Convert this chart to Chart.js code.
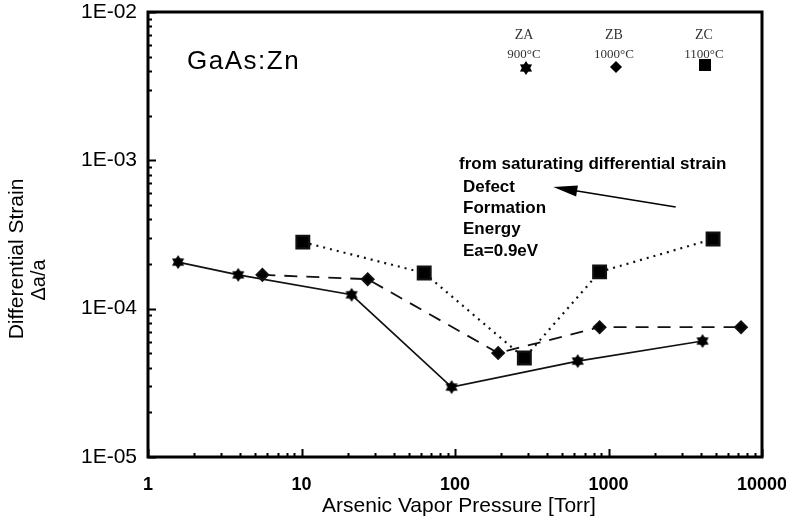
<!DOCTYPE html>
<html>
<head>
<meta charset="utf-8">
<script src="https://cdn.jsdelivr.net/npm/chart.js@4.4.1/dist/chart.umd.min.js"></script>
<style>
  html,body{margin:0;padding:0;background:#fff}
</style>
</head>
<body>
<canvas id="c" width="786" height="520"></canvas>
<script>
// axis ticks
const xTicks = [1, 10, 100, 1000, 10000];
const xTickLabels = ['1', '10', '100', '1000', '10000'];
const yTicks = [1e-5, 1e-4, 1e-3, 1e-2];
const yTickLabels = ['1E-05', '1E-04', '1E-03', '1E-02'];

// series: arsenic pressure [Torr] / differential strain
const seriesNames = ['ZA', 'ZB', 'ZC'];
const seriesTemps = ['900°C', '1000°C', '1100°C'];
const zaPressure = [1.57, 3.87, 21.2, 95, 630, 4100];
const zaStrain = [2.06e-4, 1.69e-4, 1.24e-4, 2.96e-5, 4.43e-5, 6.05e-5];
const zbPressure = [5.56, 27, 191, 875, 7300];
const zbStrain = [1.69e-4, 1.58e-4, 5.02e-5, 7.5e-5, 7.5e-5];
const zcPressure = [10.2, 63, 283, 875, 4800];
const zcStrain = [2.81e-4, 1.74e-4, 4.65e-5, 1.77e-4, 2.95e-4];

// arrow of the annotation, in data units (tail -> head)
const arrowFrom = [2740, 4.84e-4];
const arrowTo = [437, 6.6e-4];

const sans = 'Liberation Sans, Arial, sans-serif';
const serif = 'Liberation Serif, Times New Roman, serif';

function pts(xs, ys){ return xs.map((x, i) => ({x: x, y: ys[i]})); }

function starImg(r){
  const s = Math.ceil(r * 2 + 2);
  const c = document.createElement('canvas');
  c.width = c.height = s;
  const g = c.getContext('2d');
  g.fillStyle = '#000';
  g.beginPath();
  for (let i = 0; i < 12; i++){
    const a = -Math.PI / 2 + i * Math.PI / 6;
    const rr = i % 2 ? r * 0.6 : r;
    g.lineTo(s / 2 + rr * Math.cos(a), s / 2 + rr * Math.sin(a));
  }
  g.closePath();
  g.fill();
  return c;
}
const star = starImg(7);

const decoration = {
  id: 'decoration',
  afterDatasetsDraw(chart){
    const ctx = chart.ctx;
    const a = chart.chartArea;
    const xs = chart.scales.x, ys = chart.scales.y;
    ctx.save();
    ctx.strokeStyle = '#000';
    ctx.fillStyle = '#000';

    // frame
    ctx.lineWidth = 3;
    ctx.strokeRect(a.left, a.top, a.right - a.left, a.bottom - a.top);

    // inward log ticks
    ctx.lineWidth = 2;
    ctx.beginPath();
    for (let d = 0; d < 4; d++){
      for (let k = 1; k <= 10; k++){
        const v = k * Math.pow(10, d);
        const px = Math.round(xs.getPixelForValue(v)) + 0.5;
        const len = (k === 1 || k === 10) ? 8 : 4;
        ctx.moveTo(px, a.bottom);
        ctx.lineTo(px, a.bottom - len);
      }
    }
    for (let d = -5; d < -2; d++){
      for (let k = 1; k <= 10; k++){
        const v = k * Math.pow(10, d);
        const py = Math.round(ys.getPixelForValue(v)) + 0.5;
        const len = (k === 1 || k === 10) ? 8 : 4;
        ctx.moveTo(a.left, py);
        ctx.lineTo(a.left + len, py);
      }
    }
    ctx.stroke();

    // axis titles
    ctx.textAlign = 'center';
    ctx.textBaseline = 'middle';
    ctx.font = '21px ' + sans;
    ctx.fillText('Arsenic Vapor Pressure [Torr]', 459, 506);
    ctx.save();
    ctx.translate(17, 259);
    ctx.rotate(-Math.PI / 2);
    ctx.fillText('Differential Strain', 0, 0);
    ctx.restore();
    ctx.save();
    ctx.translate(39, 280);
    ctx.rotate(-Math.PI / 2);
    ctx.font = '20px ' + sans;
    ctx.fillText('\u0394a/a', 0, 0);
    ctx.restore();

    // sample label
    ctx.textAlign = 'left';
    ctx.font = '26px ' + sans;
    ctx.letterSpacing = '1.5px';
    ctx.fillText('GaAs:Zn', 187, 62);
    ctx.letterSpacing = '0px';

    // annotation
    ctx.font = 'bold 17px ' + sans;
    ctx.fillText('from saturating differential strain', 459, 164);
    ['Defect', 'Formation', 'Energy', 'Ea=0.9eV'].forEach((t, i) => {
      ctx.fillText(t, 463, 187 + i * 21.3);
    });
    const x0 = xs.getPixelForValue(arrowFrom[0]), y0 = ys.getPixelForValue(arrowFrom[1]);
    const x1 = xs.getPixelForValue(arrowTo[0]), y1 = ys.getPixelForValue(arrowTo[1]);
    const ang = Math.atan2(y1 - y0, x1 - x0);
    ctx.lineWidth = 1.6;
    ctx.beginPath();
    ctx.moveTo(x0, y0);
    ctx.lineTo(x1 - 18 * Math.cos(ang), y1 - 18 * Math.sin(ang));
    ctx.stroke();
    ctx.beginPath();
    ctx.moveTo(x1, y1);
    ctx.lineTo(x1 - 24 * Math.cos(ang) + 5.5 * Math.sin(ang), y1 - 24 * Math.sin(ang) - 5.5 * Math.cos(ang));
    ctx.lineTo(x1 - 24 * Math.cos(ang) - 5.5 * Math.sin(ang), y1 - 24 * Math.sin(ang) + 5.5 * Math.cos(ang));
    ctx.closePath();
    ctx.fill();

    // legend
    const lx = [524, 614, 704];
    ctx.textAlign = 'center';
    ctx.fillStyle = '#333';
    seriesNames.forEach((n, i) => {
      ctx.font = '14px ' + serif;
      ctx.fillText(n, lx[i], 35);
      ctx.font = '13px ' + serif;
      ctx.fillText(seriesTemps[i], lx[i], 55);
    });
    ctx.fillStyle = '#000';
    ctx.drawImage(star, lx[0] + 2 - star.width / 2, 68 - star.height / 2);
    ctx.beginPath();
    ctx.moveTo(lx[1] + 2, 61); ctx.lineTo(lx[1] + 8, 67);
    ctx.lineTo(lx[1] + 2, 73); ctx.lineTo(lx[1] - 4, 67);
    ctx.closePath();
    ctx.fill();
    ctx.fillRect(lx[2] - 5, 59, 12, 12);
    ctx.restore();
  }
};

new Chart(document.getElementById('c'), {
  type: 'scatter',
  data: {
    datasets: [
      {
        label: seriesNames[0],
        data: pts(zaPressure, zaStrain),
        showLine: true,
        borderColor: '#111',
        backgroundColor: '#000',
        borderWidth: 1.6,
        pointStyle: star,
        tension: 0
      },
      {
        label: seriesNames[1],
        data: pts(zbPressure, zbStrain),
        showLine: true,
        borderColor: '#111',
        backgroundColor: '#000',
        borderWidth: 1.8,
        borderDash: [13, 9],
        pointStyle: 'rectRot',
        pointRadius: 6,
        tension: 0
      },
      {
        label: seriesNames[2],
        data: pts(zcPressure, zcStrain),
        showLine: true,
        borderColor: '#111',
        backgroundColor: '#000',
        borderWidth: 2.2,
        borderDash: [2, 5],
        pointStyle: 'rect',
        pointRadius: 9,
        tension: 0
      }
    ]
  },
  options: {
    responsive: false,
    animation: false,
    devicePixelRatio: 1,
    layout: { padding: { left: 0, top: 12, right: 24, bottom: 0 } },
    plugins: { legend: { display: false }, tooltip: { enabled: false } },
    scales: {
      x: {
        type: 'logarithmic',
        min: 1, max: 10000,
        afterBuildTicks: s => { s.ticks = xTicks.map(v => ({ value: v })); },
        afterFit: s => { s.height = 63; s.paddingLeft = 0; s.paddingRight = 0; },
        grid: { display: false, drawTicks: false },
        border: { display: false },
        ticks: {
          callback: (v, i) => xTickLabels[i],
          color: '#000',
          font: { family: sans, size: 18, weight: 'bold' },
          padding: 17, maxRotation: 0, autoSkip: false
        }
      },
      y: {
        type: 'logarithmic',
        min: 1e-5, max: 1e-2,
        afterBuildTicks: s => { s.ticks = yTicks.map(v => ({ value: v })); },
        afterFit: s => { s.width = 148; s.paddingTop = 0; s.paddingBottom = 0; },
        grid: { display: false, drawTicks: false },
        border: { display: false },
        ticks: {
          callback: (v, i) => yTickLabels[i],
          color: '#000',
          font: { family: sans, size: 21 },
          padding: 11, autoSkip: false
        }
      }
    }
  },
  plugins: [decoration]
});
</script>
</body>
</html>
